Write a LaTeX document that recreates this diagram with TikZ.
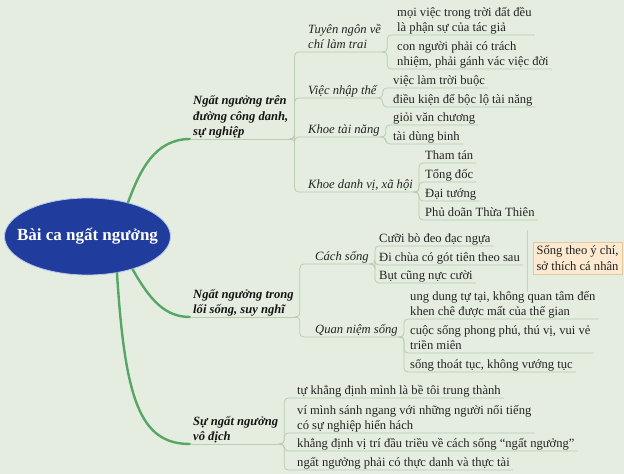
\documentclass[tikz,border=0pt]{standalone}
\usepackage{fontspec}
\setmainfont{Liberation Serif}
\usetikzlibrary{shapes.geometric}
\definecolor{bgcol}{RGB}{228,237,223}
\definecolor{rootblue}{RGB}{32,61,157}
\definecolor{rootedge}{RGB}{185,198,235}
\definecolor{stemgreen}{RGB}{88,166,102}
\definecolor{twiggray}{RGB}{188,204,178}
\definecolor{inkdark}{RGB}{20,20,20}
\definecolor{inkgray}{RGB}{35,35,35}
\definecolor{sumfill}{RGB}{252,233,208}
\definecolor{sumedge}{RGB}{226,202,160}

\begin{document}
\begin{tikzpicture}[x=1pt, y=-1pt,
  root/.style={ellipse, fill=rootblue, draw=rootedge, line width=0.8pt, text=white,
    font=\fontsize{17}{20}\selectfont\bfseries, minimum width=166pt, minimum height=77pt,
    inner xsep=-12pt, inner ysep=0pt},
  mainbr/.style={anchor=south west, align=left, text=inkdark, inner xsep=3pt, inner ysep=2.5pt,
    text depth=0.5pt, font=\fontsize{12.6}{15.8}\selectfont\bfseries\itshape},
  subbr/.style={mainbr, text=inkgray, font=\fontsize{12.6}{15.8}\selectfont\itshape},
  leaf/.style={mainbr, text=inkgray, font=\fontsize{12.6}{15.8}\selectfont},
  summary/.style={draw=sumedge, fill=sumfill, align=left, text=inkgray, inner sep=3.5pt,
    font=\fontsize{12.6}{15.8}\selectfont},
  stem/.style={draw=stemgreen, line width=2.4pt, line cap=round},
  twig/.style={draw=twiggray, line width=0.8pt, rounded corners=4pt},
  sumline/.style={draw=sumedge, line width=0.9pt, rounded corners=3pt}]
  \fill[bgcol] (0,0) rectangle (624,474);
  \useasboundingbox (0,0) rectangle (624,474);

  \node[root] (root) at (87.5,236.5) {Bài ca ngất ngưởng};

  \node[mainbr] (b1) at (190,139) {Ngất ngưởng trên\\đường công danh,\\sự nghiệp};
  \node[mainbr] (b2) at (190,317) {Ngất ngưởng trong\\lối sống, suy nghĩ};
  \node[mainbr] (b3) at (190,444) {Sự ngất ngưởng\\vô địch};

  \node[subbr] (t1) at (305,52) {Tuyên ngôn về\\chí làm trai};
  \node[subbr] (t2) at (305,98) {Việc nhập thế};
  \node[subbr] (t3) at (305,137) {Khoe tài năng};
  \node[subbr] (t4) at (305,192) {Khoe danh vị, xã hội};
  \node[subbr] (c1) at (312,264) {Cách sống};
  \node[subbr] (c2) at (312,337) {Quan niệm sống};

  \node[leaf] (l11) at (394,35) {mọi việc trong trời đất đều\\là phận sự của tác giả};
  \node[leaf] (l12) at (394,69) {con người phải có trách\\nhiệm, phải gánh vác việc đời};
  \node[leaf] (l21) at (390,88) {việc làm trời buộc};
  \node[leaf] (l22) at (390,107) {điều kiện để bộc lộ tài năng};
  \node[leaf] (l31) at (390,125) {giỏi văn chương};
  \node[leaf] (l32) at (390,144) {tài dùng binh};
  \node[leaf] (l41) at (422,163) {Tham tán};
  \node[leaf] (l42) at (422,182) {Tổng đốc};
  \node[leaf] (l43) at (422,201) {Đại tướng};
  \node[leaf] (l44) at (422,220) {Phủ doãn Thừa Thiên};
  \node[leaf] (l51) at (376,246) {Cưỡi bò đeo đạc ngựa};
  \node[leaf] (l52) at (376,265) {Đi chùa có gót tiên theo sau};
  \node[leaf] (l53) at (376,283) {Bụt cũng nực cười};
  \node[leaf] (l61) at (407,319) {ung dung tự tại, không quan tâm đến\\khen chê được mất của thế gian};
  \node[leaf] (l62) at (407,353) {cuộc sống phong phú, thú vị, vui vẻ\\triền miên};
  \node[leaf] (l63) at (407,372) {sống thoát tục, không vướng tục};
  \node[leaf] (l71) at (294,398) {tự khẳng định mình là bề tôi trung thành};
  \node[leaf] (l72) at (294,433) {ví mình sánh ngang với những người nổi tiếng\\có sự nghiệp hiển hách};
  \node[leaf] (l73) at (294,451) {khẳng định vị trí đầu triều về cách sống “ngất ngưởng”};
  \node[leaf] (l74) at (294,470) {ngất ngưởng phải có thực danh và thực tài};

  \node[summary] (s1) at (577.5,258) {Sống theo ý chí,\\sở thích cá nhân};
  \coordinate (sa) at (527,230);
  \coordinate (sb) at (527,292);
  \draw[sumline] (sa) -- (sb);

  \draw[stem] (root.40) .. controls (140,170) and (155,139) .. (b1.south west);
  \draw[stem] (root.-36) .. controls (150,300) and (165,317) .. (b2.south west);
  \draw[stem] (root.-51) .. controls (125,400) and (140,444) .. (b3.south west);

  \foreach \b in {b1,b2,b3}
    \draw[twig] (\b.south west) -- (\b.south east);
  \foreach \p/\c in {b1/t1, b1/t2, b1/t3, b1/t4, b2/c1, b2/c2,
      t1/l11, t1/l12, t2/l21, t2/l22, t3/l31, t3/l32,
      t4/l41, t4/l42, t4/l43, t4/l44, c1/l51, c1/l52, c1/l53,
      c2/l61, c2/l62, c2/l63, b3/l71, b3/l72, b3/l73, b3/l74}
    \draw[twig] (\p.south east) -- ++(3,0) |- (\c.south east);
\end{tikzpicture}
\end{document}
